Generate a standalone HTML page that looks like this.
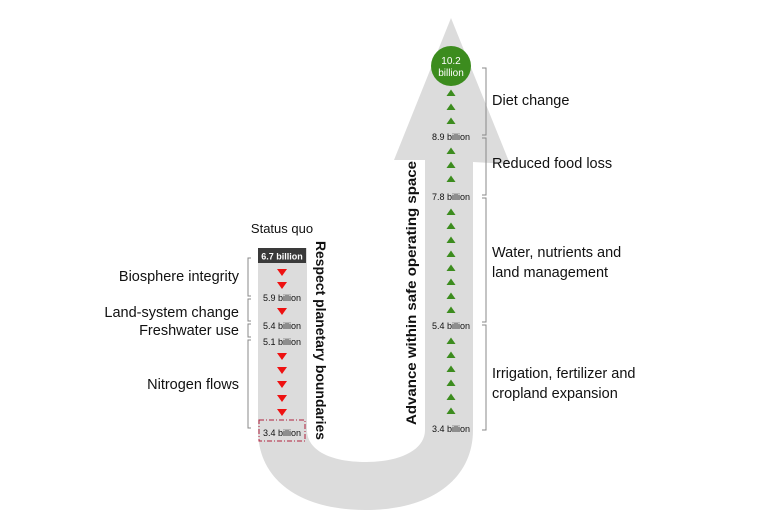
<!DOCTYPE html>
<html><head><meta charset="utf-8"><style>
body{margin:0;background:#fff}
svg{display:block;font-family:"Liberation Sans",Arial,sans-serif}
</style></head><body>
<svg width="768" height="532" viewBox="0 0 768 532" xmlns="http://www.w3.org/2000/svg">
<defs>
<path id="gt" d="M-4.5,3 L4.5,3 L0,-3.5 Z" fill="#3c8c1e"/>
<path id="rt" d="M-5,-3 L5,-3 L0,4 Z" fill="#ee1111"/>
</defs>
<path d="M258,248 L258,430 C258,480 300,510 366,510 C430,510 473,480 473,430 L473,162 L510,164 L451,18 L394,160 L425,160 L425,430 C425,450 400,462 366,462 C330,462 307,450 307,430 L307,248 Z" fill="#dcdcdc"/>
<text x="282" y="233" font-size="13" text-anchor="middle" fill="#111">Status quo</text>
<rect x="258" y="248" width="48" height="15" fill="#3a3a3a"/>
<text x="282" y="259.5" font-size="9" text-anchor="middle" fill="#fff" font-weight="bold">6.7 billion</text>
<g fill="#111" font-size="9" text-anchor="middle">
<text x="282" y="301">5.9 billion</text>
<text x="282" y="329">5.4 billion</text>
<text x="282" y="345">5.1 billion</text>
<text x="282" y="436">3.4 billion</text>
</g>
<rect x="259" y="420" width="46" height="21" fill="none" stroke="#b0203c" stroke-width="1" stroke-dasharray="5,2,1,2"/>
<use href="#rt" x="282" y="272"/><use href="#rt" x="282" y="285"/><use href="#rt" x="282" y="311"/>
<use href="#rt" x="282" y="356"/><use href="#rt" x="282" y="370"/><use href="#rt" x="282" y="384"/><use href="#rt" x="282" y="398"/><use href="#rt" x="282" y="412"/>
<g stroke="#888" fill="none" stroke-width="1">
<path d="M251,258 L248,258 L248,296 L251,296"/>
<path d="M251,299 L248,299 L248,321 L251,321"/>
<path d="M251,324 L248,324 L248,337 L251,337"/>
<path d="M251,340 L248,340 L248,428 L251,428"/>
</g>
<g fill="#111" font-size="14.5" text-anchor="end">
<text x="239" y="281">Biosphere integrity</text>
<text x="239" y="317">Land-system change</text>
<text x="239" y="335">Freshwater use</text>
<text x="239" y="389">Nitrogen flows</text>
</g>
<text transform="translate(316,241) rotate(90)" font-size="13.5" font-weight="bold" fill="#111" textLength="199" lengthAdjust="spacingAndGlyphs">Respect planetary boundaries</text>
<text transform="translate(416,425) rotate(-90)" font-size="14" font-weight="bold" fill="#111" textLength="264" lengthAdjust="spacingAndGlyphs">Advance within safe operating space</text>
<circle cx="451" cy="66" r="20" fill="#3c8c1e"/>
<text x="451" y="64" font-size="10" fill="#fff" text-anchor="middle">10.2</text>
<text x="451" y="76" font-size="10" fill="#fff" text-anchor="middle">billion</text>
<g fill="#111" font-size="9" text-anchor="middle">
<text x="451" y="140">8.9 billion</text>
<text x="451" y="200">7.8 billion</text>
<text x="451" y="329">5.4 billion</text>
<text x="451" y="432">3.4 billion</text>
</g>
<g>
<use href="#gt" x="451" y="93"/><use href="#gt" x="451" y="107"/><use href="#gt" x="451" y="121"/>
<use href="#gt" x="451" y="151"/><use href="#gt" x="451" y="165"/><use href="#gt" x="451" y="179"/>
<use href="#gt" x="451" y="212"/><use href="#gt" x="451" y="226"/><use href="#gt" x="451" y="240"/><use href="#gt" x="451" y="254"/><use href="#gt" x="451" y="268"/><use href="#gt" x="451" y="282"/><use href="#gt" x="451" y="296"/><use href="#gt" x="451" y="310"/>
<use href="#gt" x="451" y="341"/><use href="#gt" x="451" y="355"/><use href="#gt" x="451" y="369"/><use href="#gt" x="451" y="383"/><use href="#gt" x="451" y="397"/><use href="#gt" x="451" y="411"/>
</g>
<g stroke="#888" fill="none" stroke-width="1">
<path d="M482,68 L486,68 L486,135 L482,135"/>
<path d="M482,138 L486,138 L486,195 L482,195"/>
<path d="M482,198 L486,198 L486,322 L482,322"/>
<path d="M482,325 L486,325 L486,430 L482,430"/>
</g>
<g fill="#111" font-size="14.5">
<text x="492" y="105">Diet change</text>
<text x="492" y="168">Reduced food loss</text>
<text x="492" y="257">Water, nutrients and</text>
<text x="492" y="277">land management</text>
<text x="492" y="378">Irrigation, fertilizer and</text>
<text x="492" y="398">cropland expansion</text>
</g>
</svg>
</body></html>
